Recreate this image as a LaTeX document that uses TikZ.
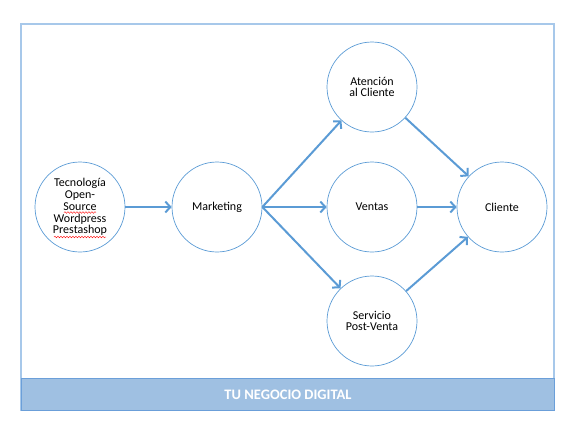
\documentclass[tikz,border=0pt]{standalone}
\usepackage{fontspec}
\setmainfont{Carlito}
\usetikzlibrary{arrows.meta,decorations.pathmorphing}
\definecolor{lineblue}{HTML}{5B9BD5}
\definecolor{frameblue}{HTML}{A7C8EA}
\definecolor{bandfill}{HTML}{9FC0E2}
\definecolor{bandline}{HTML}{6B9FD9}
\begin{document}
\begin{tikzpicture}
[
    x=1pt, y=-1pt,
    stage/.style={draw=lineblue, line width=0.7pt, circle, minimum size=90pt,
        inner sep=0pt, align=center, font=\fontsize{12}{11.8}\selectfont},
    flow/.style={draw=lineblue, line width=2pt, -{Straight Barb[length=5pt,width=11pt]}},
    squiggle/.style={draw=red, line width=0.4pt,
        decorate, decoration={snake, amplitude=0.8pt, segment length=3pt}}
]
    \useasboundingbox (0,0) rectangle (580,429);
    % frame and band
    \draw[frameblue, line width=1.5pt] (21,24) rectangle (554,410);
    \node[draw=bandline, line width=1pt, fill=bandfill, minimum width=533pt,
        minimum height=32pt, inner sep=0pt, anchor=north west,
        text=white, font=\bfseries\fontsize{14.5}{15}\selectfont] (band) at (21,378)
        {TU NEGOCIO DIGITAL};
    % stages
    \node[stage] (tec) at (80,207) {Tecnología\\Open-\\Source\\Wordpress\\Prestashop};
    \node[stage] (mkt) at (217,207) {Marketing};
    \node[stage] (aten) at (372,87) {Atención\\al Cliente};
    \node[stage] (vent) at (372,207) {Ventas};
    \node[stage] (serv) at (372,321) {Servicio\\Post-Venta};
    \node[stage] (cli) at (502,207) {Cliente};
    % spelling marks
    \draw[squiggle] ([shift={(-16,5.5)}]tec.center) -- ++(32,0);
    \draw[squiggle] ([shift={(-26,30)}]tec.center) -- ++(52,0);
    % arrows
    \draw[flow] (tec) -- (mkt);
    \draw[flow] (mkt.east) -- (aten);
    \draw[flow] (mkt.east) -- (vent);
    \draw[flow] (mkt.east) -- (serv);
    \draw[flow] (aten) -- (cli);
    \draw[flow] (vent) -- (cli);
    \draw[flow] (serv) -- (cli);
\end{tikzpicture}
\end{document}
